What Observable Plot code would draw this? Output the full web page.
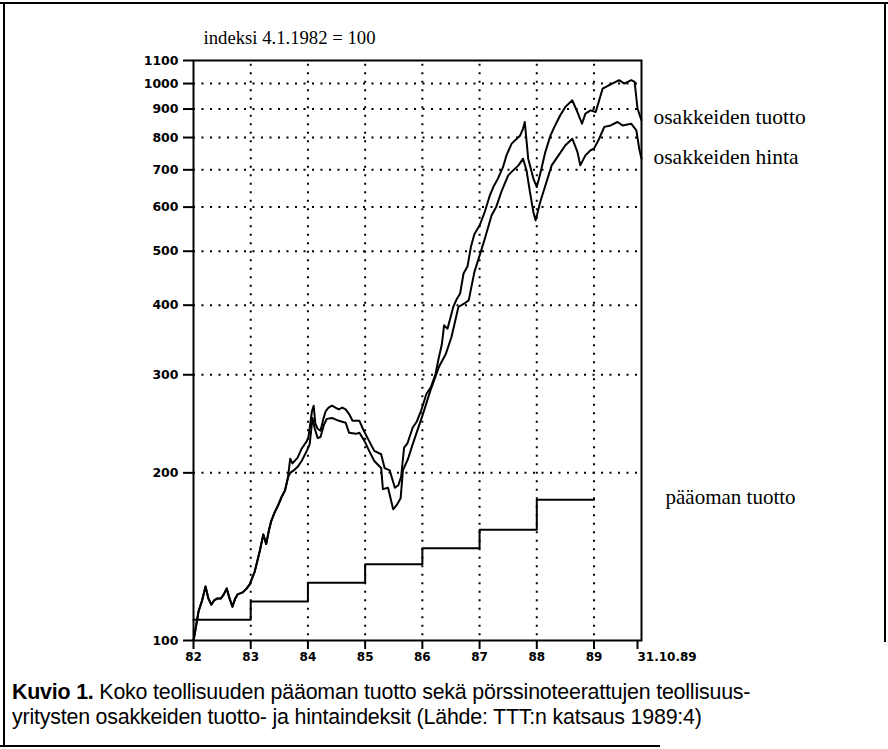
<!DOCTYPE html>
<html><head><meta charset="utf-8">
<script src="https://cdn.jsdelivr.net/npm/d3@7"></script>
<script src="https://cdn.jsdelivr.net/npm/@observablehq/plot@0.6"></script>
<style>
body{margin:0;background:#fff;}
#wrap{position:relative;width:888px;height:749px;overflow:hidden;background:#fff;}
#chart{position:absolute;left:0;top:0;}
.caption{position:absolute;left:12px;top:680px;font-family:"Liberation Sans",Arial,sans-serif;font-size:21.4px;line-height:25px;color:#000;white-space:nowrap;letter-spacing:-0.2px;}
.bl{position:absolute;background:#000;}
</style></head><body>
<div id="wrap">
<div id="chart"></div>
<div class="caption"><b>Kuvio 1.</b> Koko teollisuuden pääoman tuotto sekä pörssinoteerattujen teollisuus-<br>yritysten osakkeiden tuotto- ja hintaindeksit (Lähde: TTT:n katsaus 1989:4)</div>
<div class="bl" style="left:0;top:2px;width:888px;height:2px"></div>
<div class="bl" style="left:3px;top:2px;width:2px;height:745px"></div>
<div class="bl" style="left:884px;top:2px;width:2px;height:640px"></div>
<div class="bl" style="left:0;top:745px;width:660px;height:2px"></div>
</div>
<script>
// Values
const titleText = "indeksi 4.1.1982 = 100";
const yTicks = [100, 200, 300, 400, 500, 600, 700, 800, 900, 1000, 1100];
const gridY = [200, 300, 400, 500, 600, 700, 800, 900, 1000];
const xTicks = [1982, 1983, 1984, 1985, 1986, 1987, 1988, 1989];
const xTickLabels = ["82", "83", "84", "85", "86", "87", "88", "89"];
const gridX = [1983, 1984, 1985, 1986, 1987, 1988, 1989];
const xEnd = 1989.83;
const xEndLabel = "31.10.89";

// shared early path (both indices identical until mid-1983)
const commonYears = [1982.00,1982.03,1982.09,1982.15,1982.21,1982.26,1982.31,1982.36,1982.42,1982.48,1982.53,1982.58,1982.63,1982.68,1982.73,1982.77,1982.86,1982.93,1982.98,1983.07,1983.16,1983.22,1983.27,1983.32,1983.36,1983.42,1983.48,1983.54,1983.60,1983.65];
const commonValues = [100,104,113,118,125,119,116,118,119,119,121,124,119,115,119,121,122,124,126,133,145,155,149,158,164,170,175,181,186,196];

// osakkeiden tuotto (upper)
const tuottoYears = [1983.69,1983.73,1983.82,1983.89,1983.98,1984.01,1984.07,1984.10,1984.13,1984.17,1984.22,1984.27,1984.31,1984.36,1984.42,1984.48,1984.54,1984.60,1984.66,1984.72,1984.78,1984.90,1984.96,1985.07,1985.16,1985.28,1985.34,1985.43,1985.52,1985.58,1985.63,1985.68,1985.74,1985.83,1985.90,1985.98,1986.07,1986.15,1986.23,1986.29,1986.34,1986.38,1986.44,1986.54,1986.60,1986.66,1986.72,1986.79,1986.85,1986.91,1987.00,1987.09,1987.18,1987.24,1987.32,1987.41,1987.47,1987.56,1987.65,1987.71,1987.76,1987.79,1987.85,1987.94,1988.00,1988.06,1988.15,1988.24,1988.32,1988.41,1988.50,1988.62,1988.71,1988.79,1988.85,1988.94,1989.03,1989.15,1989.26,1989.38,1989.44,1989.53,1989.65,1989.71,1989.76,1989.83];
const tuottoValues = [212,208,213,221,228,232,258,264,245,240,238,250,258,262,264,262,260,262,260,255,248,248,240,228,219,216,204,202,188,190,197,222,226,241,247,259,277,285,301,323,340,368,363,397,410,420,456,470,510,537,556,588,630,652,675,708,743,780,796,807,830,853,733,675,652,689,754,807,841,877,908,933,889,847,883,895,889,979,993,1007,1014,1000,1014,1007,902,859];

// osakkeiden hinta (lower)
const hintaYears = [1983.69,1983.75,1983.82,1983.89,1983.98,1984.03,1984.08,1984.12,1984.17,1984.22,1984.28,1984.33,1984.42,1984.54,1984.66,1984.72,1984.84,1984.90,1984.99,1985.07,1985.16,1985.28,1985.31,1985.40,1985.49,1985.55,1985.62,1985.66,1985.75,1985.83,1986.01,1986.14,1986.29,1986.41,1986.51,1986.63,1986.72,1986.81,1986.91,1987.00,1987.09,1987.21,1987.29,1987.38,1987.50,1987.59,1987.68,1987.76,1987.82,1987.88,1987.94,1987.98,1988.06,1988.15,1988.26,1988.38,1988.50,1988.62,1988.71,1988.76,1988.85,1988.94,1989.00,1989.09,1989.18,1989.29,1989.41,1989.50,1989.65,1989.74,1989.79,1989.83];
const hintaValues = [200,202,205,210,219,225,251,240,231,232,244,250,251,248,246,236,235,236,228,219,210,204,187,188,172,175,180,202,212,225,255,281,310,327,351,397,402,408,459,491,526,580,600,639,684,699,713,733,699,639,588,568,613,656,713,743,775,796,754,713,743,759,764,796,836,841,853,841,847,824,764,733];

// pääoman tuotto (annual steps)
const paaomaYears = [1982, 1983, 1984, 1985, 1986, 1987, 1988, 1989];
const paaomaValues = [109, 117.5, 127, 137, 146.5, 158, 179, 179];

const rightLabels = ["osakkeiden tuotto", "osakkeiden hinta"];
const rightLabelValues = [870, 738];
const bottomLabel = ["pääoman tuotto"];
const bottomLabelValues = [181];

const rows = (ys, vs) => ys.map((t, i) => ({t, v: vs[i]}));
const common = rows(commonYears, commonValues);
const tuotto = common.concat(rows(tuottoYears, tuottoValues));
const hinta = common.concat(rows(hintaYears, hintaValues));
const paaoma = rows(paaomaYears, paaomaValues);

const serif = "'Liberation Serif', 'Times New Roman', serif";
const dotted = {stroke: "#000", strokeWidth: 2, strokeDasharray: "2 6.5"};

const plot = Plot.plot({
  width: 888, height: 670,
  marginLeft: 193, marginRight: 247, marginTop: 60, marginBottom: 30,
  style: {fontFamily: "'DejaVu Sans', sans-serif", fontSize: "12px", color: "#000", background: "transparent", overflow: "visible"},
  x: {domain: [1982, xEnd]},
  y: {type: "log", domain: [100, 1100]},
  marks: [
    Plot.ruleY(gridY, {y: d => d, x1: 1982, x2: xEnd, ...dotted}),
    Plot.ruleX(gridX, {x: d => d, y1: 102, y2: 1100, ...dotted}),
    Plot.frame({stroke: "#000", strokeWidth: 2}),
    Plot.line(paaoma, {x: "t", y: "v", curve: "step-after", stroke: "#000", strokeWidth: 2}),
    Plot.line(hinta, {x: "t", y: "v", stroke: "#000", strokeWidth: 2}),
    Plot.line(tuotto, {x: "t", y: "v", stroke: "#000", strokeWidth: 2}),
    Plot.axisY({ticks: yTicks, tickSize: 10, tickPadding: 5, tickFormat: d => String(d), fontWeight: "bold", fontSize: 12.5, strokeWidth: 2, label: null}),
    Plot.axisX({ticks: xTicks, tickSize: 9, tickPadding: 3, tickFormat: d => xTickLabels[xTicks.indexOf(d)], fontWeight: "bold", fontSize: 12, strokeWidth: 2, label: null}),
    Plot.axisX({ticks: [xEnd], tickSize: 9, tickPadding: 3, tickFormat: () => xEndLabel, textAnchor: "start", dx: -4, fontWeight: "bold", fontSize: 12, strokeWidth: 2, label: null}),
    Plot.text([titleText], {frameAnchor: "top-left", text: d => d, dx: 10, dy: -22, textAnchor: "start", lineAnchor: "middle", fontFamily: serif, fontSize: 18.7}),
    Plot.text(rightLabels, {x: () => xEnd, y: (d, i) => rightLabelValues[i], text: d => d, textAnchor: "start", lineAnchor: "middle", dx: 12, fontFamily: serif, fontSize: 21.5}),
    Plot.text(bottomLabel, {x: () => xEnd, y: (d, i) => bottomLabelValues[i], text: d => d, textAnchor: "start", lineAnchor: "middle", dx: 24, fontFamily: serif, fontSize: 21})
  ]
});
document.getElementById("chart").appendChild(plot);
</script>
</body></html>
